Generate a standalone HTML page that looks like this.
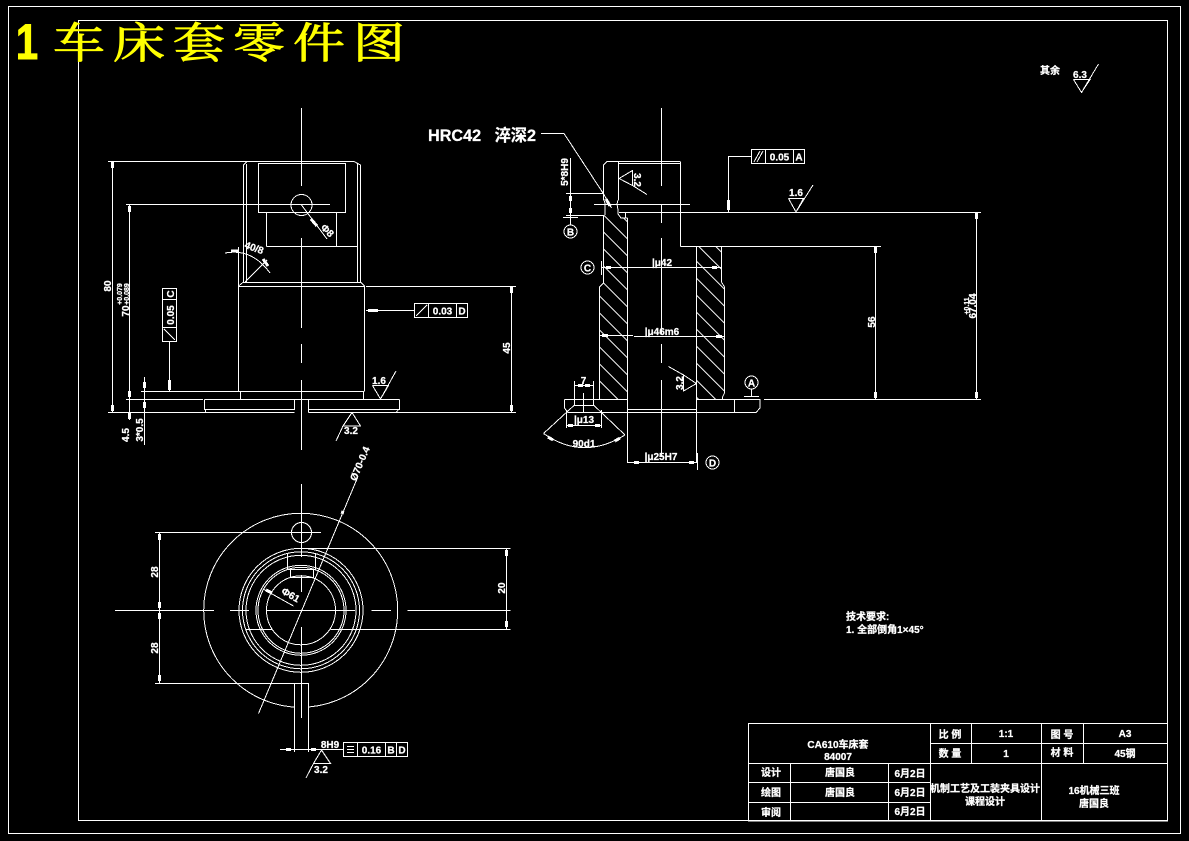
<!DOCTYPE html>
<html><head><meta charset="utf-8"><style>
html,body{margin:0;padding:0;background:#000;width:1189px;height:841px;overflow:hidden}
svg{display:block}
.l{stroke:#fff;stroke-width:1;fill:none;shape-rendering:crispEdges}
.h{stroke:#fff;stroke-width:1;fill:none}
.a{stroke:#fff;stroke-width:3;fill:none;shape-rendering:crispEdges}
text{font-family:"Liberation Sans","Noto Sans CJK SC",sans-serif;font-size:10px;font-weight:bold;fill:#fff;text-anchor:middle;stroke:#fff;stroke-width:.25}
.s{font-size:7px}
.ti{font-family:"Liberation Sans","Noto Serif CJK SC",serif;fill:#ff0;stroke:#ff0;stroke-width:1;text-anchor:middle;font-weight:normal;font-size:52px}
</style></head><body>
<svg width="1189" height="841" viewBox="0 0 1189 841" xmlns="http://www.w3.org/2000/svg">
<rect width="1189" height="841" fill="#000"/>
<defs>
<clipPath id="cl"><polygon points="603.7,215 603.7,283 599.3,287 599.3,392 601,399 627.3,399 627.3,218 604,215"/></clipPath>
<clipPath id="cr"><polygon points="696.7,246 721,246 721,282 724.3,287 724.3,393 722,399 696.7,399"/></clipPath>
</defs>
<g class="l">
<rect x="8.5" y="6.5" width="1172" height="827"/>
<rect x="78.5" y="20.5" width="1089" height="800"/>

<!-- LEFT VIEW -->
<path d="M108 161.5H354L360.5 165V282M243.5 282V165L247 161.5M246.5 164V282"/>
<path d="M357.5 164V282M258.5 163.5H345.5V212.5H258.5ZM266.5 212.5V246.5M336.5 212.5V246.5M266.5 246.5H357.5"/>
<path d="M243.5 282.5H360.5M238.5 391V286L243.5 282M364.5 391V286L360.5 282M238.5 286.5H364.5M366 286.5H516"/>
<path d="M141 391.5H364.5M240.5 391.5V399M363.5 391.5V399M126 399.5H203M204.5 399.5H399.5"/>
<path d="M204.5 399.5V409.5H294.5V399.5M308.5 399.5V409.5H399.5V399.5M108 412.5H294.5M205.5 409.5V412.5M308.5 412.5H396L399 409M308.5 409.5V412.5M396 412.5H516"/>
<path d="M301.5 108V186M301.5 238V328M301.5 344V363M301.5 380V450"/>
<circle cx="301.5" cy="205" r="10.5"/>
<path d="M126 204.5H330"/>
<path d="M112.5 161V412M129.5 205V420M144.5 377V445"/>
<path d="M301.5 205L327 239"/>
<path d="M245 282L267 260M238.5 247V286M225 253Q252 248 270 273"/>
<rect x="162.5" y="288.5" width="14" height="53"/>
<path d="M162.5 299.5H176.5M162.5 327.5H176.5M164 329L175 340M169.5 342V391"/>
<rect x="414.5" y="303.5" width="53" height="14"/>
<path d="M428.5 303.5V317.5M456.5 303.5V317.5M416 316L427 305M366 310.5H414"/>
<path d="M372.5 385.5H388.5L380.5 399L372.5 385.5M380.5 399L396 371"/>
<path d="M352 412.5L360.5 426H343L352 412.5M343 426L336 441"/>

<!-- RIGHT VIEW -->
<path d="M661.5 108V186M661.5 204V223M661.5 238V334M661.5 344V363M661.5 380V457"/>
<path d="M607 161.5H680.5M618 163.5H680.5M603.5 193V165L607 161.5M618.5 162V200M680.5 162V246.5M680.5 246.5H881"/>
<path d="M603.5 193V199L605 203V215M618 200L617 204L618 210V214L621 218H627.5M625.5 212.5V218M619 212.5H981"/>
<path d="M603.5 215V283L599.5 287V399M627.5 218V463"/>
<path d="M696.5 246V463M721.5 246V282L724.5 287V393L722.5 397V399"/>
<path d="M564.5 399.5H627.5M696.5 399.5H760V408L756 412.5H568L564.5 408V399.5M764 399.5H981M627.5 409.5H696.5M734.5 399.5V412.5"/>
<path d="M574.5 381V405M593.5 381V405M574 405.5H593.5M583.5 393V412M574.5 405L543.5 433.5M593.5 405L625 435M543.5 433.5Q583 461 625 435"/>
<path d="M574.5 385.5H593.5M566.5 410V428M601.5 410V428M566.5 425.5H601.5"/>
<path d="M627.5 462.5H696.5M697.5 453V470"/>
<circle cx="712.5" cy="462.5" r="6.5"/>
<circle cx="751.5" cy="382.5" r="6.5"/>
<path d="M751.5 389V396M744 396.5H759"/>
<circle cx="570.5" cy="231.5" r="6.5"/>
<path d="M570.5 225V158M563 217.5H578M566 193.5H603.5M566 215.5H604M594 204.5H690"/>
<circle cx="587.5" cy="267.5" r="6.5"/>
<path d="M601.5 261V275M601.5 267.5H722M600 335.5H633M634 336.5H690M690 336.5H724"/>
<path d="M541 133.5H564L603 193M603 193L611.5 208"/>
<path d="M619 178.5L632.5 170.5V185.5L619 178.5M632.5 185.5L647 194.5"/>
<path d="M696.5 383.5L683.5 375V391L696.5 383.5M683.5 375L668.5 366.5"/>
<rect x="751.5" y="149.5" width="53" height="14"/>
<path d="M765.5 149.5V163.5M793.5 149.5V163.5M754 162L760 151M757 162L763 151M751.5 156.5H728.5V212"/>
<path d="M788.5 198.5H803.5L796 212L788.5 198.5M796 212L813 185"/>
<path d="M875.5 246V399M976.5 212V399M511.5 286V412"/>

<!-- BOTTOM VIEW -->
<circle cx="300.7" cy="610.3" r="97"/>
<circle cx="301" cy="610.3" r="62"/>
<circle cx="301" cy="610.3" r="58.5"/>
<circle cx="301" cy="610.3" r="55"/>
<circle cx="301" cy="610.3" r="45"/>
<circle cx="301" cy="610.3" r="43"/>
<circle cx="301" cy="610.3" r="34.5"/>
<circle cx="301.5" cy="532.5" r="10"/>
</g>
<rect x="295" y="700" width="13" height="14" fill="#000"/>
<g class="l">
<path d="M283 532.5H321M301.5 484V557M301.5 575V592M301.5 627V718"/>
<path d="M115 610.5H214M230 610.5H249M266.5 610.5H355M371.5 610.5H391M407.5 610.5H510.5"/>
<path d="M287.5 553V569.5M315.5 553V569.5M290.5 569.5V577.5M313.5 569.5V577.5M287.5 569.5H315.5M290.5 577.5H313.5"/>
<path d="M308 548.5H510.5M246 629.5H272M330.5 629.5H510.5M155 532.5H284M155 683.5H308.5"/>
<path d="M159.5 532V683M506.5 548V629"/>
<path d="M294.5 683V752M308.5 683V752M280 749.5H343M258.5 713.5L358 476.5M293.5 606L264 589.5"/>
<rect x="343.5" y="742.5" width="64" height="14"/>
<path d="M357.5 742.5V756.5M385.5 742.5V756.5M396.5 742.5V756.5M347 746.5H354M347 749.5H354M347 752.5H354"/>
<path d="M321.5 750L330.5 763.5H313.5L321.5 750M313.5 763.5L306 778"/>

<!-- ROUGHNESS TOP RIGHT -->
<path d="M1073.5 79.5H1090L1081.5 92.5L1073.5 79.5M1081.5 92.5L1098.5 64"/>

<!-- TITLE BLOCK -->
<rect x="748.5" y="723.5" width="419" height="97.5"/>
<path d="M748.5 763.5H1167.5M930.5 743.5H1167.5M930.5 723.5V821M971.5 723.5V763.5M1041.5 723.5V821M1083.5 723.5V763.5"/>
<path d="M748.5 782.5H930.5M748.5 802.5H930.5M790.5 763.5V821M888.5 763.5V821"/>
</g>

<!-- HATCH -->
<g class="h" clip-path="url(#cl)">
<path d="M595 189.4L630 224.4M595 206.4L630 241.4M595 223.4L630 258.4M595 240.4L630 275.4M595 257.4L630 292.4M595 274.4L630 309.4M595 291.4L630 326.4M595 308.4L630 343.4M595 325.4L630 360.4M595 342.4L630 377.4M595 359.4L630 394.4M595 376.4L630 411.4M595 393.4L630 428.4"/>
</g>
<g class="h" clip-path="url(#cr)">
<path d="M690 220.7L730 260.7M690 237.7L730 277.7M690 254.7L730 294.7M690 271.7L730 311.7M690 288.7L730 328.7M690 305.7L730 345.7M690 322.7L730 362.7M690 339.7L730 379.7M690 356.7L730 396.7M690 373.7L730 413.7M690 390.7L730 430.7"/>
</g>

<!-- ARROWS -->
<g class="a">
<path d="M112.5 162V168M112.5 405V411M129.5 206V212M129.5 391V397M129.5 413V419M144.5 382V388M144.5 402V408"/>
<path d="M169.5 380V390M368 310.5H378M311 219L317 226M231 251H238M263 259L268 266"/>
<path d="M511.5 287V293M511.5 405V411M875.5 247V253M875.5 392V398M976.5 213V219M976.5 392V398"/>
<path d="M728.5 200V210M570.5 196V201M570.5 208V213M606 199L610 206M606 267.5H611M712 267.5H717M602 335.5H608M716 336.5H722"/>
<path d="M578 385.5H583M585 385.5H590M568 425.5H573M595 425.5H600M548 437L553 440M620 438L615 441M634 462.5H639M689 462.5H694"/>
<path d="M159.5 534V540M159.5 602V608M159.5 613V619M159.5 675V681M506.5 550V556M506.5 621V627M266 590L272 593M286 749.5H291M311 749.5H316"/>
<path d="M342 514L343 511"/>
</g>

<!-- DIMENSION TEXT -->
<text transform="translate(111,286) rotate(-90)">80</text>
<text transform="translate(129,311) rotate(-90)">70</text>
<text class="s" transform="translate(122,294) rotate(-90)">+0.079</text>
<text class="s" transform="translate(129,294) rotate(-90)">+0.089</text>
<text transform="translate(129,435) rotate(-90)">4.5</text>
<text transform="translate(143,430) rotate(-90)">3*0.5</text>
<text transform="translate(174,315) rotate(-90)">0.05</text>
<text transform="translate(174,294) rotate(-90)">C</text>
<text x="442.5" y="314.5">0.03</text>
<text x="462" y="314.5">D</text>
<text x="379" y="384">1.6</text>
<text x="351" y="434">3.2</text>
<text transform="translate(253,251) rotate(20)">40/8</text>
<text transform="translate(325,233) rotate(45)">Φ8</text>
<text transform="translate(510,348) rotate(-90)">45</text>
<text x="482" y="141" style="font-size:16.2px;font-weight:bold">HRC42&#160;&#160;&#160;淬深2</text>
<text transform="translate(568,172) rotate(-90)">5*8H9</text>
<text transform="translate(634,180) rotate(90)">3.2</text>
<text transform="translate(683,383) rotate(-90)">3.2</text>
<text x="662" y="266">|μ42</text>
<text x="662" y="335">|μ46m6</text>
<text x="661" y="460">|μ25H7</text>
<text x="583.5" y="384">7</text>
<text x="584" y="423">|μ13</text>
<text x="584" y="447">90d1</text>
<text x="712.5" y="466.5">D</text>
<text x="751.5" y="386.5">A</text>
<text x="570.5" y="235.5">B</text>
<text x="587.5" y="271.5">C</text>
<text x="779.5" y="160.5">0.05</text>
<text x="799" y="160.5">A</text>
<text x="796" y="196">1.6</text>
<text transform="translate(875,322) rotate(-90)">56</text>
<text class="s" transform="translate(969,306) rotate(-90)">+0.11</text>
<text transform="translate(976,306) rotate(-90)">67.04</text>
<text transform="translate(158,572) rotate(-90)">28</text>
<text transform="translate(158,648) rotate(-90)">28</text>
<text transform="translate(505,588) rotate(-90)">20</text>
<text transform="translate(289,598) rotate(30)">Φ61</text>
<text transform="translate(363,465) rotate(-67)">Ø70-0.4</text>
<text x="330" y="748">8H9</text>
<text x="371.5" y="753.5">0.16</text>
<text x="391" y="753.5">B</text>
<text x="402" y="753.5">D</text>
<text x="321" y="773">3.2</text>
<text x="1050" y="74">其余</text>
<text x="1080" y="78">6.3</text>

<!-- NOTES -->
<text x="846" y="620" style="text-anchor:start">技术要求:</text>
<text x="846" y="633" style="text-anchor:start">1. 全部倒角1×45°</text>

<!-- TITLE BLOCK TEXT -->
<text x="838" y="748">CA610车床套</text>
<text x="838" y="760">84007</text>
<text x="950" y="738">比 例</text>
<text x="1006" y="737">1:1</text>
<text x="1062" y="738">图 号</text>
<text x="1125" y="737">A3</text>
<text x="950" y="757">数 量</text>
<text x="1006" y="757">1</text>
<text x="1062" y="756">材 料</text>
<text x="1125" y="757">45钢</text>
<text x="771" y="776">设计</text>
<text x="840" y="776">唐国良</text>
<text x="910" y="777">6月2日</text>
<text x="771" y="796">绘图</text>
<text x="840" y="796">唐国良</text>
<text x="910" y="796">6月2日</text>
<text x="771" y="816">审阅</text>
<text x="910" y="815">6月2日</text>
<text x="985" y="792">机制工艺及工装夹具设计</text>
<text x="985" y="805">课程设计</text>
<text x="1094" y="794">16机械三班</text>
<text x="1094" y="807">唐国良</text>

<!-- OVERLAY TITLE -->
<text class="ti" transform="translate(27,59) scale(.8,1)" style="font-size:50px;font-weight:bold;font-family:'Liberation Sans',sans-serif">1</text>
<text class="ti" transform="translate(79,58) scale(1,.82)">车</text>
<text class="ti" transform="translate(139,58) scale(1,.82)">床</text>
<text class="ti" transform="translate(199,58) scale(1,.82)">套</text>
<text class="ti" transform="translate(259,58) scale(1,.82)">零</text>
<text class="ti" transform="translate(319,58) scale(1,.82)">件</text>
<text class="ti" transform="translate(379,58) scale(1,.82)">图</text>
</svg>
</body></html>
